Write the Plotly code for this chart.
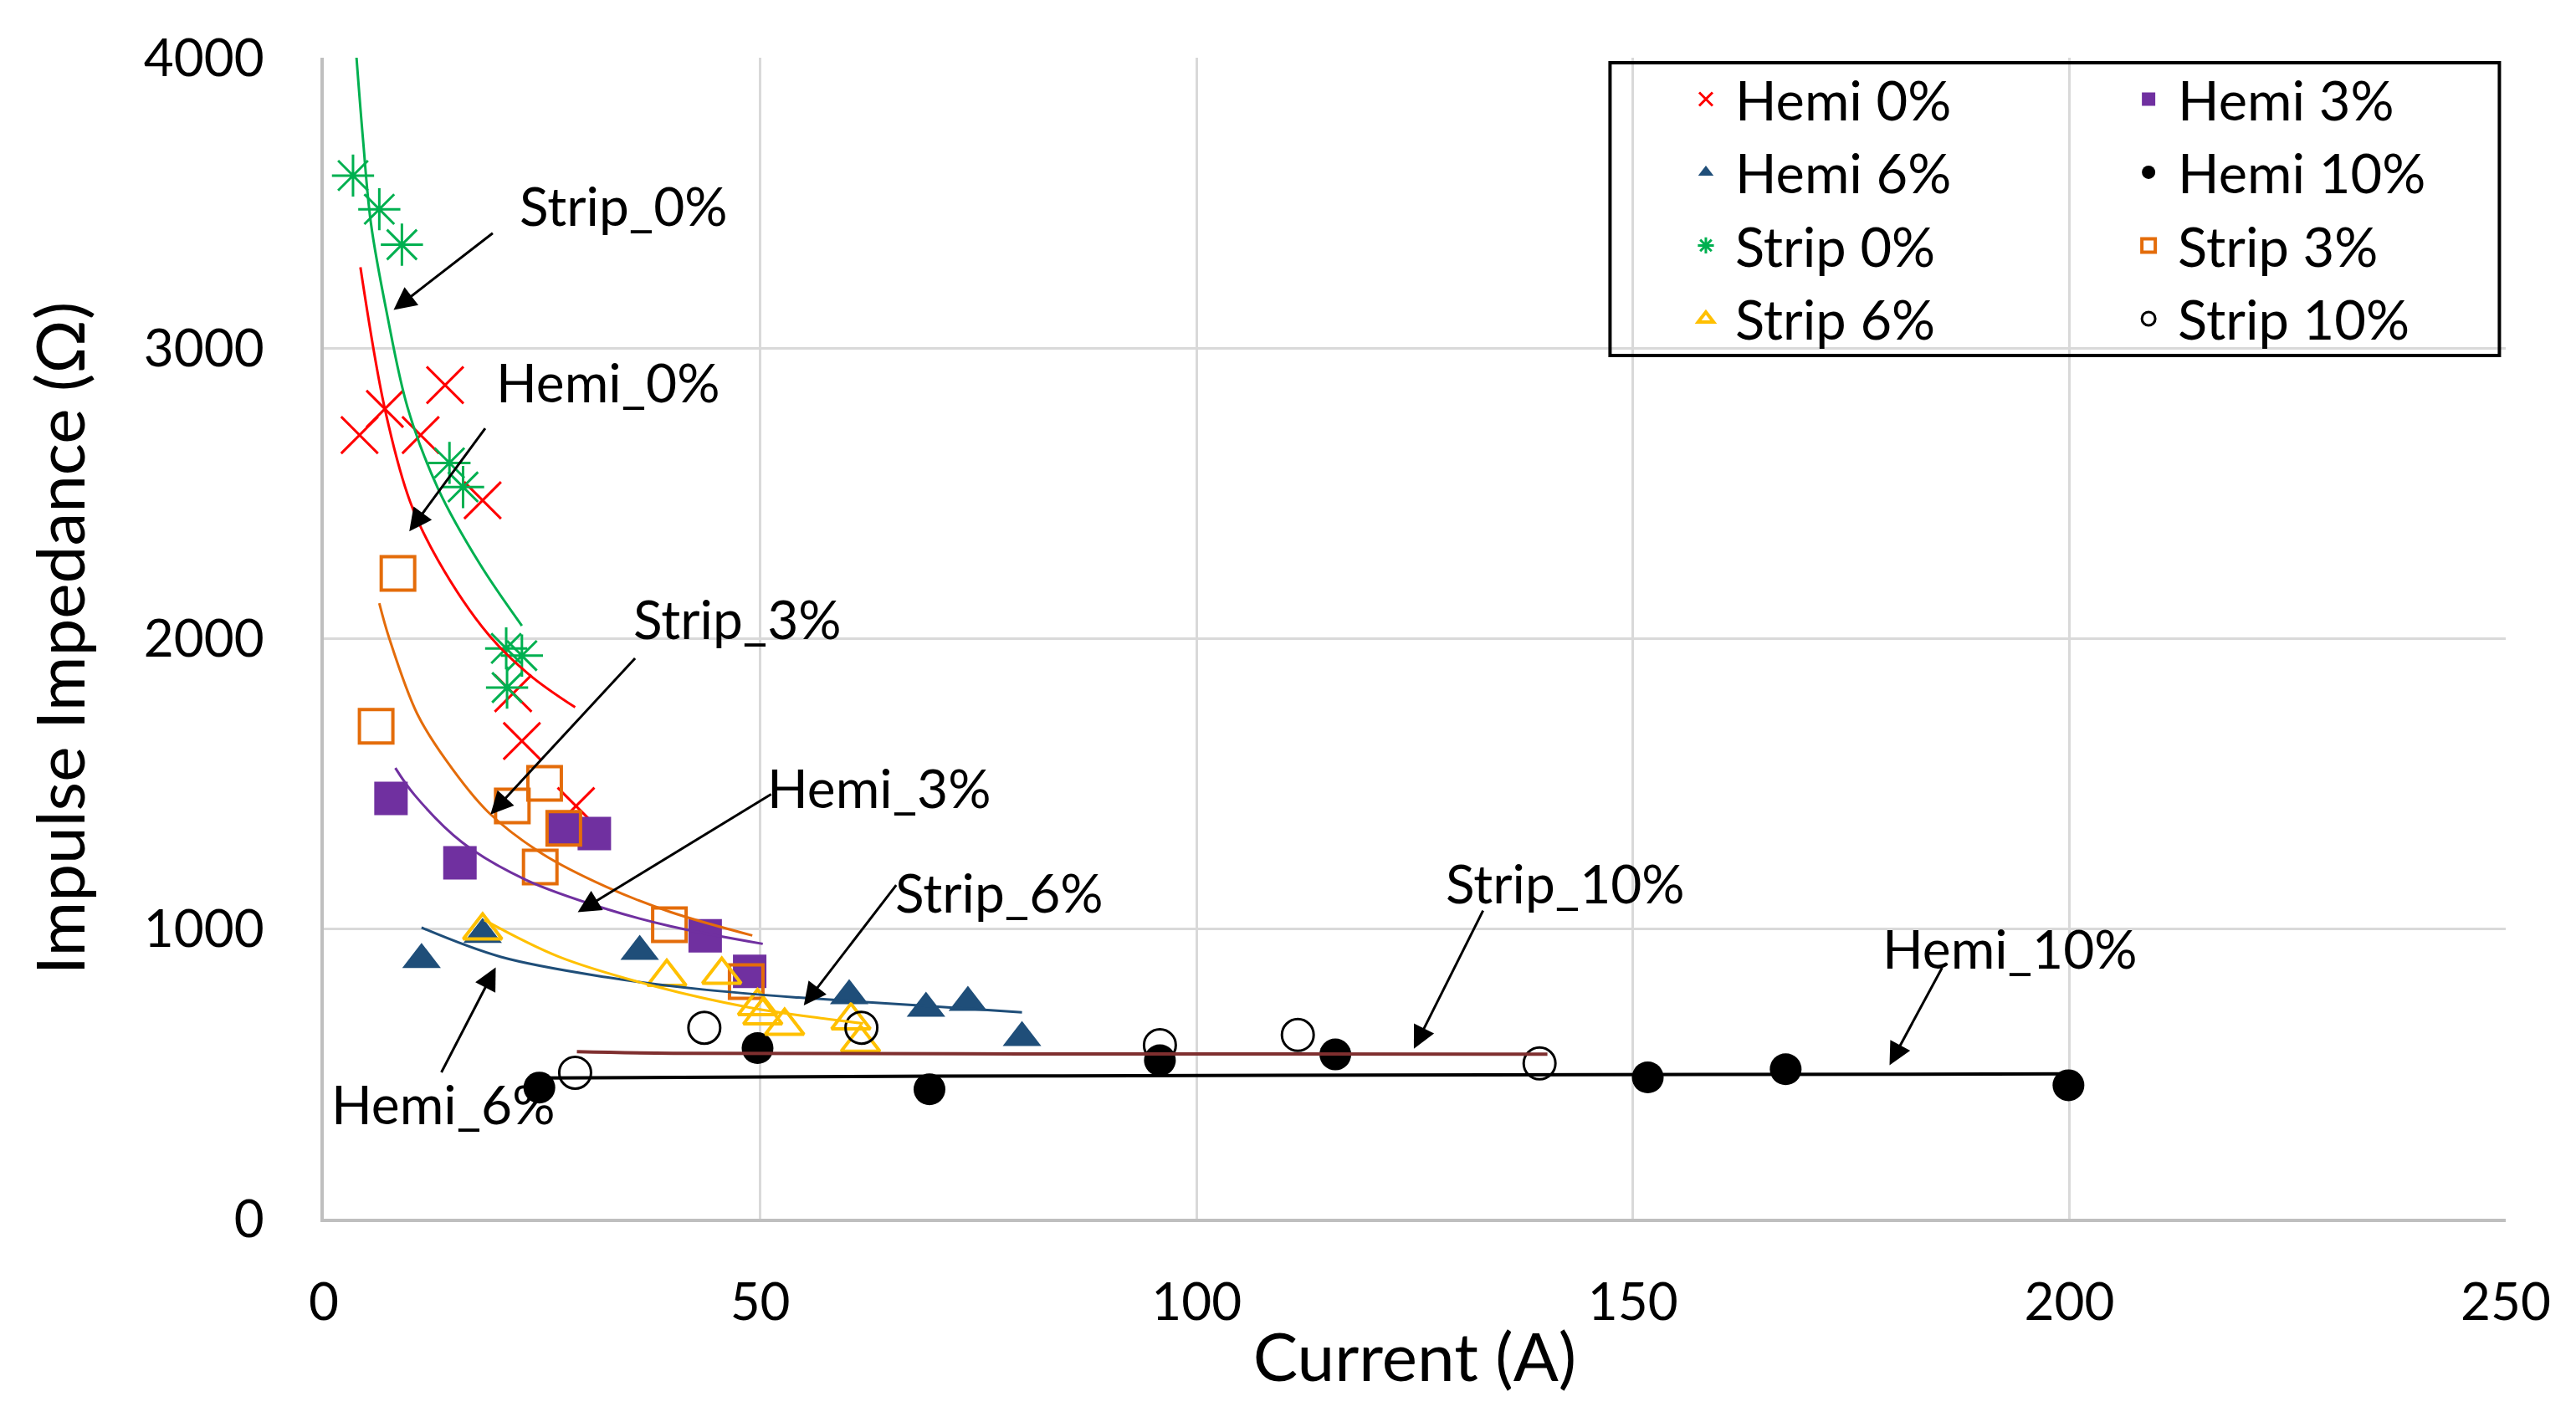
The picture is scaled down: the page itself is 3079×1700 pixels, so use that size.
import plotly.graph_objects as go

# ---------------- data ----------------
hemi0_x = [4.1, 7.0, 11.1, 13.9, 18.2, 21.7, 22.7, 28.9]
hemi0_y = [2700, 2790, 2700, 2872, 2475, 1810, 1646, 1422]

hemi3_x = [7.7, 15.6, 27.5, 31.0, 43.7, 48.8]
hemi3_y = [1448, 1226, 1345, 1327, 975, 852]

hemi6_x = [11.2, 18.2, 36.2, 60.2, 69.0, 73.8, 80.0]
hemi6_y = [893, 979, 921, 768, 725, 745, 624]

hemi10_x = [24.7, 49.7, 69.4, 95.8, 115.9, 151.7, 167.5, 199.9]
hemi10_y = [452, 588, 446, 546, 566, 487, 515, 460]

strip0_x = [3.35, 6.36, 8.95, 14.4, 15.96, 20.9, 22.7, 21.0]
strip0_y = [3594, 3478, 3356, 2604, 2521, 1965, 1940, 1830]

strip3_x = [6.0, 8.5, 21.6, 24.8, 25.3, 27.5, 39.6, 48.4]
strip3_y = [1697, 2223, 1422, 1212, 1500, 1345, 1013, 817]

strip6_x = [18.2, 39.3, 45.6, 49.7, 50.3, 52.8, 60.4, 61.5]
strip6_y = [993, 833, 840, 732, 700, 664, 683, 606]

strip10_x = [28.8, 43.6, 61.6, 95.8, 111.6, 139.3]
strip10_y = [503, 658, 658, 598, 633, 535]

# trend lines (sampled from the reference curves)
hemi0_trend_x = [4.2, 7.0, 9.9, 13.1, 18.8, 23.6, 28.8]
hemi0_trend_y = [3278, 2790, 2470, 2268, 2015, 1873, 1762]

strip0_trend_x = [3.75, 4.5, 5.4, 7.2, 9.6, 13.1, 17.9, 22.7]
strip0_trend_y = [4000, 3717, 3430, 3124, 2795, 2515, 2255, 2043]

strip3_trend_x = [6.36, 7.5, 10.7, 14.0, 18.8, 25.0, 32.4, 39.7, 49.1]
strip3_trend_y = [2121, 2000, 1740, 1580, 1402, 1258, 1143, 1057, 976]

hemi3_trend_x = [8.2, 10.4, 15.85, 23.2, 32.4, 39.7, 50.3]
hemi3_trend_y = [1553, 1460, 1297, 1167, 1067, 1008, 947]

hemi6_trend_x = [11.2, 20.3, 32.4, 43.4, 54.4, 68.2, 80.0]
hemi6_trend_y = [1003, 902, 832, 790, 762, 735, 711]

strip6_trend_x = [18.4, 26.9, 37.9, 48.9, 57.2, 61.8]
strip6_trend_y = [1029, 903, 801, 727, 690, 673]

hemi10_trend_x = [24.7, 70, 120, 200]
hemi10_trend_y = [485, 491, 495, 499]

strip10_trend_x = [29.0, 40, 80, 140.2]
strip10_trend_y = [576, 570, 568, 567]

# annotation labels (text position, arrow tail, arrow head)
ann_text = ["Strip_0%", "Hemi_0%", "Strip_3%", "Hemi_3%", "Strip_6%", "Hemi_6%", "Strip_10%", "Hemi_10%"]
ann_text_x = [34.4, 32.5, 47.4, 63.6, 77.4, 13.7, 142.3, 193.2]
ann_text_y = [3492, 2882, 2068, 1486, 1126, 396, 1156, 933]
ann_tail_x = [19.5, 18.6, 35.8, 51.4, 65.7, 13.4, 132.9, 185.5]
ann_tail_y = [3399, 2727, 1935, 1465, 1154, 500, 1066, 869]
ann_head_x = [8.0, 9.8, 19.1, 29.1, 55.0, 19.7, 124.9, 179.4]
ann_head_y = [3131, 2368, 1393, 1056, 735, 866, 586, 529]

FONT = "Lato"

fig = go.Figure()

def add_points(name, x, y, symbol, color, legend, rank, lw=3, size=40):
    fig.add_trace(go.Scatter(
        x=x, y=y, mode="markers", name=name, legend=legend, legendrank=rank,
        marker=dict(symbol=symbol, size=size, color=color,
                    line=dict(width=lw, color=color)),
    ))

add_points("Hemi 0%", hemi0_x, hemi0_y, "x-thin-open", "#FF0000", "legend", 1, lw=3, size=44)
add_points("Hemi 3%", hemi3_x, hemi3_y, "square", "#7030A0", "legend2", 1, lw=0)
add_points("Hemi 6%", hemi6_x, hemi6_y, "triangle-up", "#1F4E79", "legend", 2, lw=0)
add_points("Hemi 10%", hemi10_x, hemi10_y, "circle", "#000000", "legend2", 2, lw=0, size=38)
add_points("Strip 0%", strip0_x, strip0_y, "asterisk-open", "#00B050", "legend", 3, lw=3, size=42)
add_points("Strip 3%", strip3_x, strip3_y, "square-open", "#E46C0A", "legend2", 3, lw=4)
add_points("Strip 6%", strip6_x, strip6_y, "triangle-up-open", "#FFC000", "legend", 4, lw=4)
add_points("Strip 10%", strip10_x, strip10_y, "circle-open", "#000000", "legend2", 4, lw=3, size=38)

def add_trend(x, y, color, width=3):
    fig.add_trace(go.Scatter(
        x=x, y=y, mode="lines", showlegend=False, hoverinfo="skip",
        line=dict(color=color, width=width, shape="spline"),
    ))

add_trend(hemi0_trend_x, hemi0_trend_y, "#FF0000")
add_trend(strip0_trend_x, strip0_trend_y, "#00B050")
add_trend(strip3_trend_x, strip3_trend_y, "#E46C0A")
add_trend(hemi3_trend_x, hemi3_trend_y, "#7030A0")
add_trend(hemi6_trend_x, hemi6_trend_y, "#1F4E79")
add_trend(strip6_trend_x, strip6_trend_y, "#FFC000")
add_trend(hemi10_trend_x, hemi10_trend_y, "#000000", width=4)
add_trend(strip10_trend_x, strip10_trend_y, "#7F2F2F", width=4)

annotations = []
for t, tx, ty, sx, sy, hx, hy in zip(ann_text, ann_text_x, ann_text_y,
                                     ann_tail_x, ann_tail_y, ann_head_x, ann_head_y):
    annotations.append(dict(
        x=hx, y=hy, ax=sx, ay=sy, xref="x", yref="y", axref="x", ayref="y",
        text="", showarrow=True, arrowhead=2, arrowsize=1.8, arrowwidth=3,
        arrowcolor="#000000", standoff=0, startstandoff=0,
    ))
    annotations.append(dict(
        x=tx, y=ty, xref="x", yref="y", text=t, showarrow=False,
        xanchor="center", yanchor="middle",
        font=dict(family=FONT, size=64, color="#000000"),
    ))

legend_common = dict(
    bgcolor="rgba(0,0,0,0)", borderwidth=0, orientation="v",
    font=dict(family=FONT, size=65, color="#000000"),
    xanchor="left", yanchor="top", itemwidth=60, traceorder="normal",
)

# page body has an 8 px margin; figure is sized so the plot area lands where the reference has it
fig.update_layout(
    width=3063, height=1684,
    margin=dict(l=379, r=76, t=61, b=235),
    paper_bgcolor="white", plot_bgcolor="white",
    font=dict(family=FONT, color="#000000"),
    showlegend=True,
    legend=dict(x=0.6200, y=0.9995, **legend_common),
    legend2=dict(x=0.8229, y=0.9995, **legend_common),
    annotations=annotations,
    shapes=[dict(type="rect", xref="paper", yref="paper",
                 x0=0.5895, x1=0.9971, y0=0.7435, y1=0.9957,
                 line=dict(color="#000000", width=4), fillcolor="rgba(0,0,0,0)")],
    xaxis=dict(
        range=[0, 250], tick0=0, dtick=50, showgrid=True, gridcolor="#D9D9D9", gridwidth=3,
        showline=True, linecolor="#BFBFBF", linewidth=4, zeroline=False, ticks="",
        tickfont=dict(family=FONT, size=62, color="#000000"), ticklabelstandoff=43,
        title=dict(text="Current (A)", font=dict(family=FONT, size=80, color="#000000"), standoff=6),
    ),
    yaxis=dict(
        range=[0, 4000], tick0=0, dtick=1000, showgrid=True, gridcolor="#D9D9D9", gridwidth=3,
        showline=True, linecolor="#BFBFBF", linewidth=4, zeroline=False, ticks="",
        tickfont=dict(family=FONT, size=62, color="#000000"), ticklabelstandoff=55,
        title=dict(text="Impulse Impedance (Ω)", font=dict(family=FONT, size=80, color="#000000"), standoff=45),
    ),
)

fig.write_html("out.html")
